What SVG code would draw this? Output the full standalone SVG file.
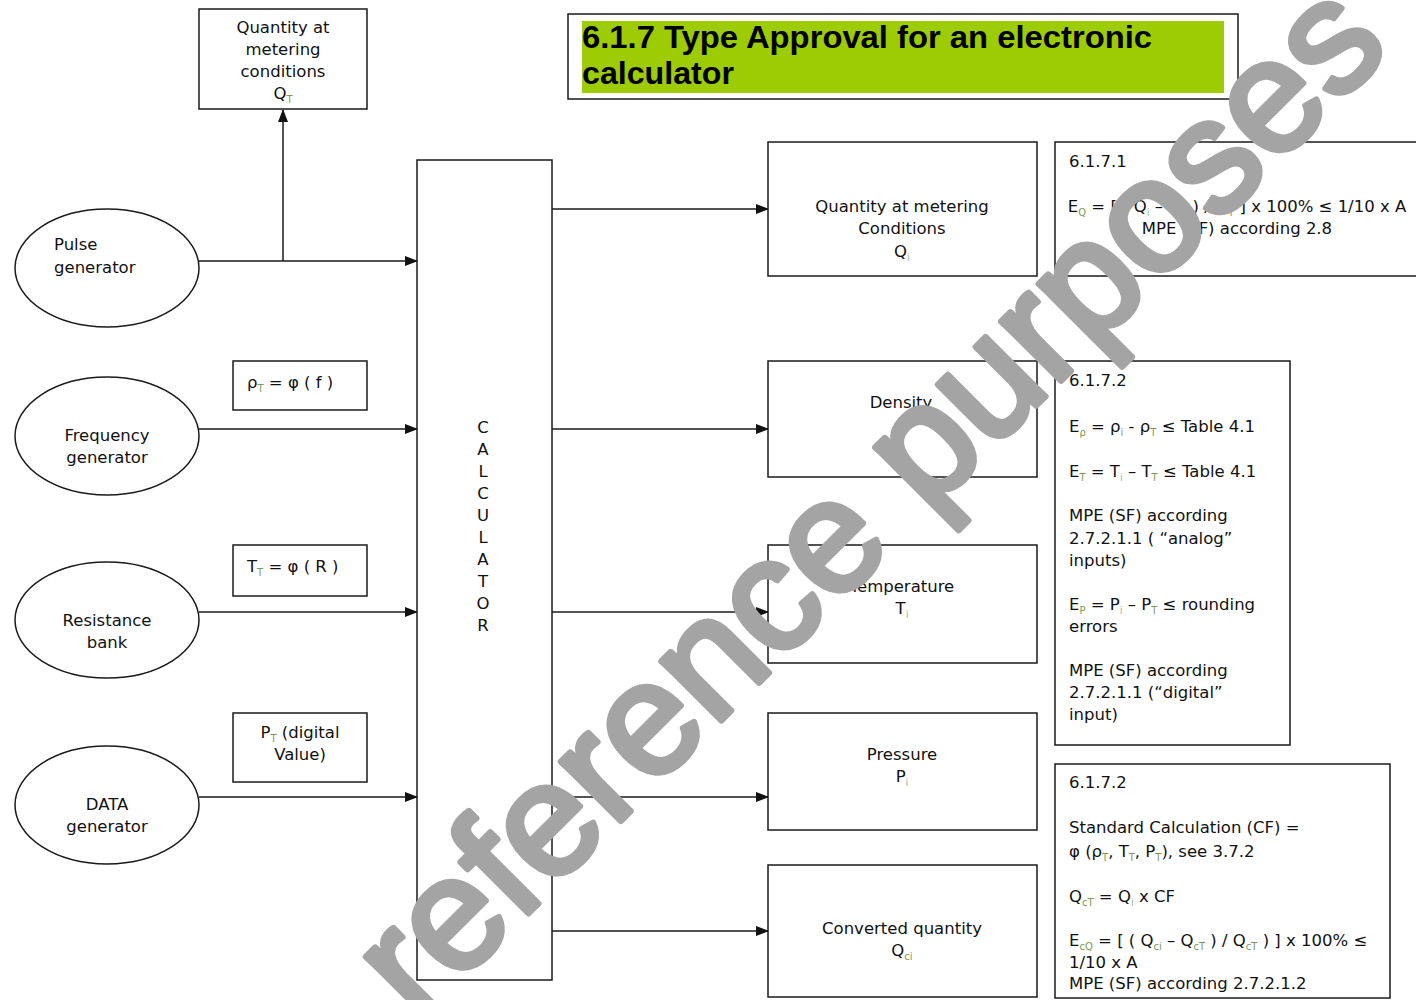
<svg xmlns="http://www.w3.org/2000/svg" width="1416" height="1000" viewBox="0 0 1416 1000">
  <style>
    .box { fill: #ffffff; stroke: #1a1a1a; stroke-width: 1.5; }
    .ell { fill: #ffffff; stroke: #1a1a1a; stroke-width: 1.5; }
    .wire { fill: none; stroke: #1a1a1a; stroke-width: 1.5; }
    .t { font-family: "DejaVu Sans", Verdana, sans-serif; font-size: 16.5px; fill: #111111; }
    .c { text-anchor: middle; }
    .sub { font-size: 10px; fill: #7f9a4e; baseline-shift: -4px; }
    .subg { font-size: 10px; fill: #a9b59a; baseline-shift: -4px; }
    .title { font-family: "Liberation Sans", Arial, sans-serif; font-weight: bold; font-size: 32px; fill: #000000; }
    .mark { font-family: "Liberation Sans", Arial, sans-serif; font-size: 160px; fill: #a4a4a4; stroke: #a4a4a4; stroke-width: 6; stroke-linejoin: round; }
  </style>
  <defs>
    <marker id="head" markerUnits="userSpaceOnUse" markerWidth="13" markerHeight="10" refX="12" refY="5" orient="auto">
      <path d="M0,0 L13,5 L0,10 z" fill="#111111"/>
    </marker>
  </defs>

  <rect width="1416" height="1000" fill="#ffffff"/>

  <!-- heading -->
  <g id="title">
    <rect x="568" y="14" width="670" height="85" class="box"/>
    <rect x="582" y="21" width="642" height="72" fill="#9dcc05"/>
    <text class="title" x="582" y="48" textLength="570" lengthAdjust="spacingAndGlyphs">6.1.7 Type Approval for an electronic</text>
    <text class="title" x="582" y="84" textLength="152" lengthAdjust="spacingAndGlyphs">calculator</text>
  </g>

  <!-- connectors -->
  <g id="connectors">
    <path class="wire" d="M283,261 V110" marker-end="url(#head)"/>
    <path class="wire" d="M199,261 H417" marker-end="url(#head)"/>
    <path class="wire" d="M199,429 H417" marker-end="url(#head)"/>
    <path class="wire" d="M199,612 H417" marker-end="url(#head)"/>
    <path class="wire" d="M199,797 H417" marker-end="url(#head)"/>
    <path class="wire" d="M552,209 H768" marker-end="url(#head)"/>
    <path class="wire" d="M552,429 H768" marker-end="url(#head)"/>
    <path class="wire" d="M552,612 H768" marker-end="url(#head)"/>
    <path class="wire" d="M552,797 H768" marker-end="url(#head)"/>
    <path class="wire" d="M552,931 H768" marker-end="url(#head)"/>
  </g>

  <!-- inputs -->
  <g id="qt-box">
    <rect x="199" y="9" width="168" height="100" class="box"/>
    <text class="t c" x="283" y="33">Quantity at</text>
    <text class="t c" x="283" y="55">metering</text>
    <text class="t c" x="283" y="77">conditions</text>
    <text class="t c" x="283" y="99">Q<tspan class="sub">T</tspan></text>
  </g>
  <g id="pulse-generator">
    <ellipse cx="107" cy="268" rx="92" ry="59" class="ell"/>
    <text class="t" x="54" y="250">Pulse</text>
    <text class="t" x="54" y="273">generator</text>
  </g>
  <g id="frequency-generator">
    <ellipse cx="107" cy="436" rx="92" ry="59" class="ell"/>
    <text class="t c" x="107" y="441">Frequency</text>
    <text class="t c" x="107" y="463">generator</text>
  </g>
  <g id="resistance-bank">
    <ellipse cx="107" cy="620" rx="92" ry="58" class="ell"/>
    <text class="t c" x="107" y="626">Resistance</text>
    <text class="t c" x="107" y="648">bank</text>
  </g>
  <g id="data-generator">
    <ellipse cx="107" cy="805" rx="92" ry="59" class="ell"/>
    <text class="t c" x="107" y="810">DATA</text>
    <text class="t c" x="107" y="832">generator</text>
  </g>
  <g id="rho-label">
    <rect x="233" y="361" width="134" height="49" class="box"/>
    <text class="t" x="247" y="388">ρ<tspan class="sub">T</tspan> = φ ( f )</text>
  </g>
  <g id="temp-label">
    <rect x="233" y="545" width="134" height="51" class="box"/>
    <text class="t" x="247" y="572">T<tspan class="sub">T</tspan> = φ ( R )</text>
  </g>
  <g id="pressure-label">
    <rect x="233" y="713" width="134" height="69" class="box"/>
    <text class="t c" x="300" y="738">P<tspan class="sub">T</tspan> (digital</text>
    <text class="t c" x="300" y="760">Value)</text>
  </g>

  <!-- calculator -->
  <g id="calculator">
    <rect x="417" y="160" width="135" height="820" class="box"/>
    <text class="t c" x="483" y="433">C</text>
    <text class="t c" x="483" y="455">A</text>
    <text class="t c" x="483" y="477">L</text>
    <text class="t c" x="483" y="499">C</text>
    <text class="t c" x="483" y="521">U</text>
    <text class="t c" x="483" y="543">L</text>
    <text class="t c" x="483" y="565">A</text>
    <text class="t c" x="483" y="587">T</text>
    <text class="t c" x="483" y="609">O</text>
    <text class="t c" x="483" y="631">R</text>
  </g>

  <!-- outputs -->
  <g id="quantity-out">
    <rect x="768" y="142" width="269" height="134" class="box"/>
    <text class="t c" x="902" y="212">Quantity at metering</text>
    <text class="t c" x="902" y="234">Conditions</text>
    <text class="t c" x="902" y="257">Q<tspan class="subg">i</tspan></text>
  </g>
  <g id="density-out">
    <rect x="768" y="361" width="269" height="116" class="box"/>
    <text class="t c" x="901" y="408">Density</text>
    <text class="t c" x="901" y="430">ρ<tspan class="subg">i</tspan></text>
  </g>
  <g id="temperature-out">
    <rect x="768" y="545" width="269" height="118" class="box"/>
    <text class="t c" x="902" y="592">Temperature</text>
    <text class="t c" x="902" y="614">T<tspan class="subg">i</tspan></text>
  </g>
  <g id="pressure-out">
    <rect x="768" y="713" width="269" height="117" class="box"/>
    <text class="t c" x="902" y="760">Pressure</text>
    <text class="t c" x="902" y="782">P<tspan class="subg">i</tspan></text>
  </g>
  <g id="converted-out">
    <rect x="768" y="865" width="269" height="132" class="box"/>
    <text class="t c" x="902" y="934">Converted quantity</text>
    <text class="t c" x="902" y="956">Q<tspan class="sub">ci</tspan></text>
  </g>

  <!-- requirement notes -->
  <g id="note-6171">
    <path class="wire" d="M1418,142 H1055 V276 H1418"/>
    <text class="t" x="1069" y="167">6.1.7.1</text>
    <text class="t c" x="1237" y="212">E<tspan class="sub">Q</tspan> = [ ( Q<tspan class="subg">i</tspan> – Q<tspan class="sub">T</tspan> ) / Q<tspan class="sub">T</tspan> ] x 100% ≤ 1/10 x A</text>
    <text class="t c" x="1237" y="234">MPE (SF) according 2.8</text>
  </g>
  <g id="note-6172a">
    <rect x="1055" y="361" width="235" height="384" class="box"/>
    <text class="t" x="1069" y="386">6.1.7.2</text>
    <text class="t" x="1069" y="432">E<tspan class="sub">ρ</tspan> = ρ<tspan class="sub">i</tspan> - ρ<tspan class="sub">T</tspan> ≤ Table 4.1</text>
    <text class="t" x="1069" y="477">E<tspan class="sub">T</tspan> = T<tspan class="subg">i</tspan> – T<tspan class="sub">T</tspan> ≤ Table 4.1</text>
    <text class="t" x="1069" y="521">MPE (SF) according</text>
    <text class="t" x="1069" y="544">2.7.2.1.1 ( “analog”</text>
    <text class="t" x="1069" y="566">inputs)</text>
    <text class="t" x="1069" y="610">E<tspan class="sub">P</tspan> = P<tspan class="subg">i</tspan> – P<tspan class="sub">T</tspan> ≤ rounding</text>
    <text class="t" x="1069" y="632">errors</text>
    <text class="t" x="1069" y="676">MPE (SF) according</text>
    <text class="t" x="1069" y="698">2.7.2.1.1 (“digital”</text>
    <text class="t" x="1069" y="720">input)</text>
  </g>
  <g id="note-6172b">
    <rect x="1055" y="764" width="335" height="234" class="box"/>
    <text class="t" x="1069" y="788">6.1.7.2</text>
    <text class="t" x="1069" y="833">Standard Calculation (CF) =</text>
    <text class="t" x="1069" y="857">φ (ρ<tspan class="sub">T</tspan>, T<tspan class="sub">T</tspan>, P<tspan class="sub">T</tspan>), see 3.7.2</text>
    <text class="t" x="1069" y="902">Q<tspan class="sub">cT</tspan>  = Q<tspan class="subg">i</tspan> x CF</text>
    <text class="t" x="1069" y="946">E<tspan class="sub">cQ</tspan> = [ ( Q<tspan class="sub">ci</tspan> – Q<tspan class="sub">cT</tspan> ) / Q<tspan class="sub">cT</tspan> ) ] x 100% ≤</text>
    <text class="t" x="1069" y="968">1/10 x A</text>
    <text class="t" x="1069" y="989">MPE (SF) according 2.7.2.1.2</text>
  </g>

  <!-- overprinted stamp -->
  <text class="mark" transform="translate(418,1024) rotate(-45)">reference purposes</text>
</svg>
